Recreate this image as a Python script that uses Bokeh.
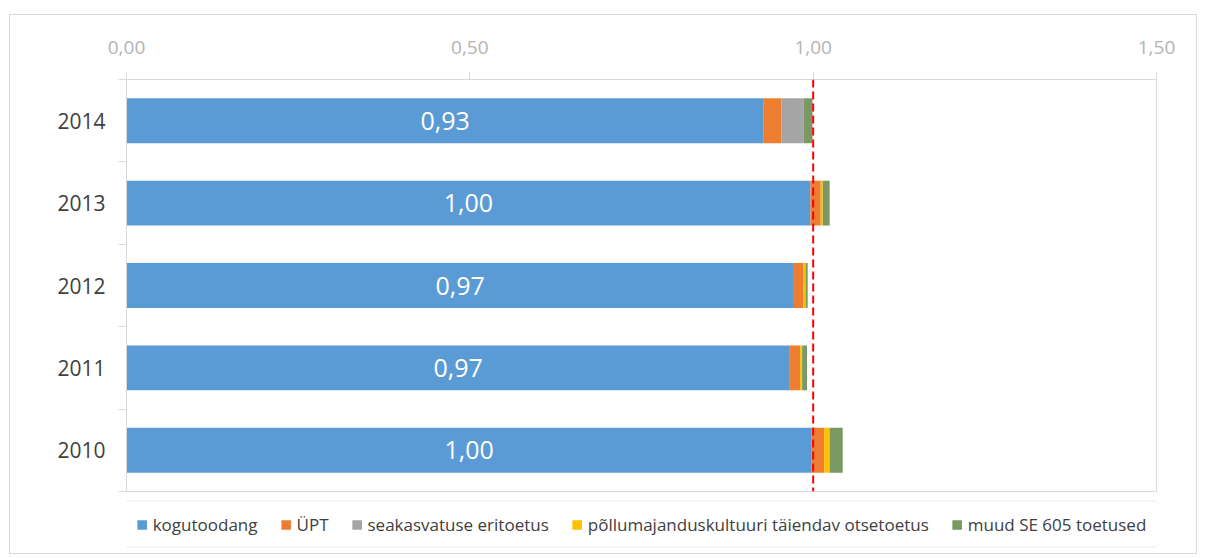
from bokeh.plotting import figure
from bokeh.layouts import column
from bokeh.models import (ColumnDataSource, Range1d, FixedTicker,
                          CustomJSTickFormatter, Span, Legend, LegendItem)
from bokeh.embed import file_html
from bokeh.resources import INLINE
from bokeh.core.properties import value

# ---- data ----
years = ["2010", "2011", "2012", "2013", "2014"]
kogutoodang = [0.998, 0.966, 0.972, 0.996, 0.928]
upt = [0.018, 0.015, 0.014, 0.015, 0.026]
seakasvatus = [0.0, 0.0, 0.0, 0.0, 0.032]
pollumajandus = [0.008, 0.003, 0.003, 0.003, 0.0]
muud = [0.019, 0.007, 0.003, 0.010, 0.013]
series_names = ["kogutoodang", "ÜPT", "seakasvatuse eritoetus",
                "põllumajanduskultuuri täiendav otsetoetus", "muud SE 605 toetused"]
colors = ["#5B9BD5", "#ED7D31", "#A5A5A5", "#FFC000", "#799862"]
x_ticks = [0.0, 0.5, 1.0, 1.5]
reference_level = 1.0

FONT = "Open Sans"

ypos = [i + 0.5 for i in range(len(years))]
keys = ["s0", "s1", "s2", "s3", "s4"]
src = ColumnDataSource(dict(y=ypos, s0=kogutoodang, s1=upt, s2=seakasvatus,
                            s3=pollumajandus, s4=muud,
                            lx=[v / 2 for v in kogutoodang],
                            lab=[f"{v:.2f}".replace(".", ",") for v in kogutoodang]))

p = figure(width=1186, height=477, output_backend="svg", toolbar_location=None,
           x_range=Range1d(0, 1.5), y_range=Range1d(0, len(years)),
           x_axis_location="above", min_border_left=116, min_border_right=40,
           min_border_top=64, min_border_bottom=1)
p.outline_line_color = "#d9d9d9"
p.xgrid.visible = False
p.ygrid.visible = False

renderers = p.hbar_stack(keys, y="y", height=0.545, color=colors, source=src,
                         line_color=None)

p.text(x="lx", y="y", text="lab", source=src, text_color="white",
       text_font=value(FONT), text_font_size="25px", text_align="center",
       text_baseline="middle")

p.add_layout(Span(location=reference_level, dimension="height", line_color="#FF0000",
                  line_width=2, line_dash="8 4"))

xa = p.xaxis[0]
xa.ticker = FixedTicker(ticks=x_ticks)
xa.formatter = CustomJSTickFormatter(code="return tick.toFixed(2).replace('.', ',');")
xa.axis_line_color = "#d9d9d9"
xa.major_tick_line_color = "#d9d9d9"
xa.major_tick_out = 8
xa.major_tick_in = 0
xa.minor_tick_line_color = None
xa.major_label_text_font = FONT
xa.major_label_text_font_size = "19px"
xa.major_label_text_color = "#b3b3b3"
xa.major_label_standoff = 18

ya = p.yaxis[0]
ya.ticker = FixedTicker(ticks=ypos, minor_ticks=list(range(len(years) + 1)))
ya.major_label_overrides = {y: lab for y, lab in zip(ypos, years)}
ya.axis_line_color = "#d9d9d9"
ya.major_tick_line_color = None
ya.minor_tick_line_color = "#d9d9d9"
ya.minor_tick_out = 8
ya.minor_tick_in = 0
ya.major_label_text_font = FONT
ya.major_label_text_font_size = "21px"
ya.major_label_text_color = "#404040"
ya.major_label_standoff = 13

# ---- legend strip below the chart ----
pl = figure(width=1186, height=61, output_backend="svg", toolbar_location=None,
            x_range=Range1d(0, 1), y_range=Range1d(0, 1),
            min_border_left=116, min_border_right=40, min_border_top=6,
            min_border_bottom=3)
pl.axis.visible = False
pl.grid.visible = False
pl.outline_line_color = None
# zero-size swatch renderers; they only feed the legend
dummy = [pl.hbar(y=[0.5], left=[0], right=[0], height=0, color=c, line_color=None)
         for c in colors]

legend = Legend(items=[LegendItem(label=n, renderers=[r], index=0)
                       for n, r in zip(series_names, dummy)],
                orientation="horizontal", location="center")
legend.label_text_font = FONT
legend.label_text_font_size = "17px"
legend.label_text_color = "#404040"
legend.glyph_width = 12
legend.glyph_height = 12
legend.label_standoff = 5
legend.spacing = 22
legend.padding = 11
legend.margin = 0
legend.border_line_color = "#d9d9d9"
legend.label_height = 16
pl.add_layout(legend)

layout = column(p, pl, spacing=0)
layout.margin = (15, 0, 0, 10)
layout.styles = {"outline": "1px solid #d9d9d9", "outline-offset": "0px"}

open("out.html", "w").write(file_html(layout, INLINE))
